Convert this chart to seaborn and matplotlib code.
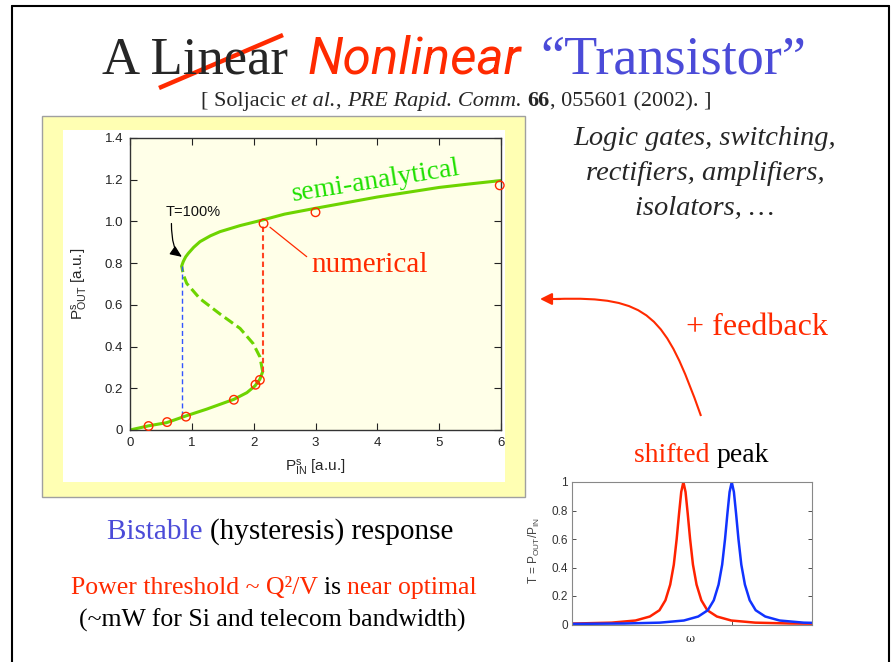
import matplotlib
matplotlib.use("Agg")
import numpy as np
import matplotlib.pyplot as plt
import seaborn as sns
from matplotlib.patches import Rectangle, PathPatch, FancyArrowPatch
from matplotlib.lines import Line2D
from matplotlib.path import Path

# ---- data ----
# semi-analytical S-curve (P_in, P_out), split into its three branches
lower_pin = [0.0, 0.30, 0.59, 0.92, 1.24, 1.68, 1.89, 2.02, 2.10, 2.146]
lower_pout = [0.0, 0.020, 0.035, 0.069, 0.100, 0.147, 0.179, 0.211, 0.243, 0.280]
middle_pin = [2.146, 2.10, 1.99, 1.78, 1.456, 1.13, 0.917, 0.862, 0.836]
middle_pout = [0.280, 0.351, 0.415, 0.487, 0.556, 0.630, 0.703, 0.745, 0.786]
upper_pin = [0.836, 0.845, 0.862, 0.90, 0.943, 1.03, 1.132, 1.30, 1.456, 1.78, 2.146, 2.5, 3.0,
             3.5, 4.0, 4.5, 5.0, 5.5, 6.0]
upper_pout = [0.786, 0.794, 0.808, 0.830, 0.847, 0.876, 0.903, 0.931, 0.951, 0.980, 1.007, 1.035, 1.063,
              1.090, 1.117, 1.140, 1.163, 1.180, 1.196]

# numerical points
num_pin = [0.30, 0.60, 0.905, 1.68, 2.03, 2.10, 2.16, 3.0, 5.98]
num_pout = [0.019, 0.038, 0.064, 0.145, 0.217, 0.240, 0.990, 1.044, 1.173]

# switching jumps (P_in, P_out from, P_out to)
jump_up = [2.146, 0.280, 0.990]
jump_down = [0.836, 0.069, 0.786]

xticks_main = [0, 1, 2, 3, 4, 5, 6]
yticks_main = [0, 0.2, 0.4, 0.6, 0.8, 1.0, 1.2, 1.4]
ylabels_main = ["0", "0.2", "0.4", "0.6", "0.8", "1.0", "1.2", "1.4"]

# transmission peak shape (offset from resonance, T)
peak_offset = [-0.70, -0.45, -0.30, -0.20, -0.14, -0.10, -0.075, -0.055, -0.04, -0.028, -0.018, -0.009, 0.0,
               0.009, 0.018, 0.028, 0.04, 0.055, 0.075, 0.10, 0.14, 0.20, 0.30, 0.45, 0.70]
peak_T = [0.004, 0.007, 0.013, 0.028, 0.056, 0.10, 0.17, 0.28, 0.42, 0.60, 0.78, 0.93, 1.0,
          0.93, 0.78, 0.60, 0.42, 0.28, 0.17, 0.10, 0.056, 0.028, 0.013, 0.007, 0.004]
red_center = 0.464
blue_center = 0.666
yticks_small = [0, 0.2, 0.4, 0.6, 0.8, 1.0]
ylabels_small = ["0", "0.2", "0.4", "0.6", "0.8", "1"]

# ---- colours ----
RED = "#FF2A00"
BLUE = "#4B4BD8"
GREEN = "#6DD400"
GREEN_TXT = "#1EE000"

W, H = 892, 662

sns.set_style("ticks")
plt.rcParams["font.family"] = ["Liberation Serif", "DejaVu Serif"]
plt.rcParams["mathtext.fontset"] = "custom"
plt.rcParams["mathtext.rm"] = "Liberation Sans"

fig = plt.figure(figsize=(W / 100, H / 100), dpi=100)
fig.patch.set_facecolor("white")


def fx(x):
    return x / W


def fy(y):
    return 1 - y / H


def rich_text(xc, yb, parts, size, **common):
    """Draw a line of text made of differently styled pieces, centred on xc (pixels)."""
    r = fig.canvas.get_renderer()

    def adv(s, props):
        a = fig.text(0, 0, "x" + s + "x", fontsize=size, **common, **props)
        b = fig.text(0, 0, "xx", fontsize=size, **common, **props)
        w = a.get_window_extent(r).width - b.get_window_extent(r).width
        a.remove()
        b.remove()
        return w

    widths = [adv(s, p) for s, p in parts]
    x = xc - sum(widths) / 2
    for (s, p), w in zip(parts, widths):
        fig.text(fx(x), fy(yb), s, fontsize=size, ha="left", va="baseline", **common, **p)
        x += w


def line(ax, x, y, **kw):
    sns.lineplot(x=x, y=y, ax=ax, sort=False, estimator=None, **kw)
    return ax.lines[-1]


# ---- slide frame ----
fig.add_artist(Line2D([fx(12), fx(12)], [fy(6), 0], color="black", lw=1.5))
fig.add_artist(Line2D([fx(12), fx(889)], [fy(6), fy(6)], color="black", lw=1.5))
fig.add_artist(Line2D([fx(889), fx(889)], [fy(6), 0], color="black", lw=1.5))

# yellow frame around the main plot, with white inner area
fig.add_artist(Rectangle((fx(42), fy(497)), (525 - 42) / W, (497 - 116) / H,
                         transform=fig.transFigure, fc="#FFFFB3", ec="#A0A0A0", lw=1, zorder=0))
fig.add_artist(Rectangle((fx(63), fy(482)), (505 - 63) / W, (482 - 130) / H,
                         transform=fig.transFigure, fc="white", ec="none", zorder=0))

# ---- title ----
fig.text(fx(102), fy(73), "A Linear", fontsize=38, va="baseline", ha="left")
fig.text(fx(308), fy(73), "Nonlinear", fontsize=37, va="baseline", ha="left",
         family="Roboto", style="italic", color=RED)
fig.text(fx(540), fy(73), "\u201cTransistor\u201d", fontsize=39, va="baseline", ha="left", color=BLUE)
fig.add_artist(Line2D([fx(159), fx(283)], [fy(88), fy(35)], color=RED, lw=3.2, solid_capstyle="butt"))

rich_text(456, 106, [("[ Soljacic ", {}), ("et al.", {"style": "italic"}), (", ", {}),
                     ("PRE Rapid. Comm.", {"style": "italic"}), (" ", {}),
                     ("66", {"weight": "bold"}), (", 055601 (2002). ]", {})], 16)

# ---- main plot ----
ax = fig.add_axes([fx(130), fy(430), 371 / W, 292 / H])
ax.set_facecolor("#FFFFE8")
line(ax, lower_pin, lower_pout, color=GREEN, lw=2.2)
line(ax, upper_pin, upper_pout, color=GREEN, lw=2.2)
line(ax, middle_pin, middle_pout, color=GREEN, lw=2.2, linestyle="--").set_dashes((3.3, 1.5))

line(ax, [jump_down[0]] * 2, jump_down[1:], color="#3355FF", lw=1.0, linestyle="--").set_dashes((3.6, 2.2))
line(ax, [jump_up[0]] * 2, jump_up[1:], color="#FF4422", lw=1.5, linestyle="--").set_dashes((2.6, 1.6))

sns.scatterplot(x=num_pin, y=num_pout, ax=ax, marker="o", s=38, zorder=5, clip_on=False)
coll = ax.collections[-1]
coll.set_facecolor("none")
coll.set_edgecolor(RED)
coll.set_linewidth(1.0)

ax.set_xlim(0, 6)
ax.set_ylim(0, 1.4)
ax.set_xticks(xticks_main)
ax.set_yticks(yticks_main)
ax.set_yticklabels(ylabels_main)
ax.tick_params(direction="in", top=True, right=True, length=5, width=0.8,
               labelsize=9.5, pad=5, colors="#222222")
for lab in ax.get_xticklabels() + ax.get_yticklabels():
    lab.set_family("Liberation Sans")
for sp in ax.spines.values():
    sp.set_color("#333333")
    sp.set_linewidth(1.0)

ax.set_xlabel(r"$\mathregular{P^s_{IN}}$ [a.u.]", fontsize=11, family="Liberation Sans")
ax.set_ylabel(r"$\mathregular{P^s_{OUT}}$ [a.u.]", fontsize=11, family="Liberation Sans")
ax.xaxis.set_label_coords(0.5, -0.095)
ax.yaxis.set_label_coords(-0.108, 0.5)

ax.text(3.98, 1.194, "semi-analytical", rotation=9, rotation_mode="anchor",
        ha="center", va="center", fontsize=20, color=GREEN_TXT)
ax.text(3.88, 0.759, "numerical", ha="center", va="baseline", fontsize=21, color=RED)
line(ax, [2.264, 2.858], [0.972, 0.831], color=RED, lw=0.9)
ax.text(1.02, 1.045, "T=100%", ha="center", va="center", fontsize=10.5,
        family="Liberation Sans", color="#111111")
ax.annotate("", xy=(0.84, 0.83), xytext=(0.67, 0.99),
            arrowprops=dict(arrowstyle="-|>,head_length=0.7,head_width=0.3", color="black",
                            lw=0.9, shrinkA=0, shrinkB=0,
                            connectionstyle="angle3,angleA=-90,angleB=-35"))

# ---- text on the right ----
for yb, txt in zip([145, 180, 215], ["Logic gates, switching,", "rectifiers, amplifiers,", "isolators, \u2026"]):
    fig.text(fx(705), fy(yb), txt, fontsize=20.5, style="italic", ha="center", va="baseline")
fig.text(fx(757), fy(335), "+ feedback", fontsize=23, color=RED, ha="center", va="baseline")

# curved feedback arrow
verts = [(fx(701), fy(416)), (fx(665), fy(315)), (fx(650), fy(296)), (fx(556), fy(299))]
fig.add_artist(PathPatch(Path(verts, [Path.MOVETO, Path.CURVE4, Path.CURVE4, Path.CURVE4]),
                         transform=fig.transFigure, fc="none", ec=RED, lw=1.5))
fig.add_artist(FancyArrowPatch((fx(560), fy(299)), (fx(540), fy(299)), transform=fig.transFigure,
                               arrowstyle="-|>,head_length=7,head_width=3.5", color=RED, lw=1.5,
                               shrinkA=0, shrinkB=0))

rich_text(702, 462, [("shifted ", {"color": RED}), ("peak", {"color": "black"})], 20)

# ---- bottom left text ----
rich_text(280, 539, [("Bistable ", {"color": BLUE}), ("(hysteresis) response", {"color": "black"})], 21)
rich_text(274, 594, [("Power threshold ~ Q\u00b2/V ", {"color": RED}), ("is ", {"color": "black"}),
                     ("near optimal", {"color": RED})], 18.5)
rich_text(272, 627, [("(~mW for Si and telecom bandwidth)", {"color": "black"})], 18.5)

# ---- small transmission plot ----
ax2 = fig.add_axes([fx(572.3), fy(624.5), 239.4 / W, 142.5 / H])
line(ax2, np.add(peak_offset, red_center), peak_T, color="#FF2200", lw=1.8)
line(ax2, np.add(peak_offset, blue_center), peak_T, color="#1133FF", lw=1.8)
ax2.set_xlim(0, 1)
ax2.set_ylim(0, 1)
ax2.set_xticks([blue_center])
ax2.set_xticklabels([])
ax2.set_yticks(yticks_small)
ax2.set_yticklabels(ylabels_small)
ax2.tick_params(direction="in", right=True, length=3, width=0.6, labelsize=8.5, pad=3, colors="#333333")
for lab in ax2.get_yticklabels():
    lab.set_family("Liberation Sans")
for sp in ax2.spines.values():
    sp.set_color("#888888")
    sp.set_linewidth(0.8)
ax2.set_ylabel(r"T = P$_{\mathregular{OUT}}$/P$_{\mathregular{IN}}$", fontsize=8.5,
               family="Liberation Sans", color="#444444")
ax2.yaxis.set_label_coords(-0.125, 0.52)
ax2.set_xlabel("\u03c9", fontsize=8, family="DejaVu Serif")
ax2.xaxis.set_label_coords(0.49, -0.07)

fig.savefig("out.png", dpi=100)
